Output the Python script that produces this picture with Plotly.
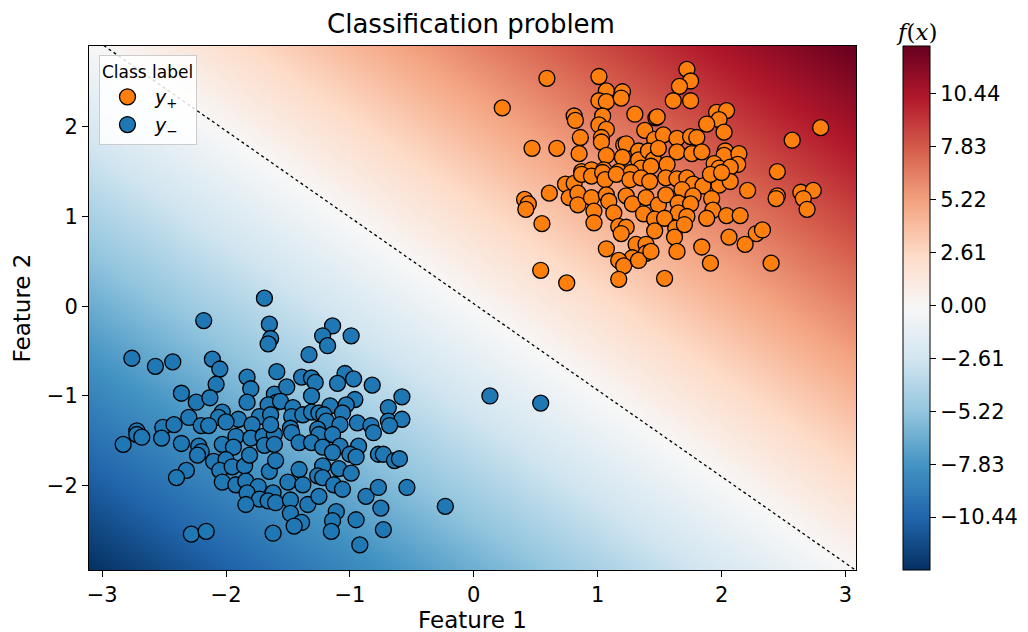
import numpy as np
import plotly.graph_objects as go

# ---- data ----
pos_x = [0.59, 0.23, 1.01, 1.07, 1.01, 1.07, 1.20, 1.19, 1.30, 1.47, 0.81, 0.82, 1.04, 1.01, 1.07, 0.86, 1.03, 1.03,
         1.38, 1.46, 0.47, 0.67, 0.85, 1.07, 1.21, 1.23, 1.20, 1.33, 1.33, 1.41, 1.45, 1.35, 0.87, 0.95, 1.05, 1.17,
         1.27, 1.72, 1.75, 1.66, 1.61, 1.75, 1.96, 2.04, 1.98, 1.88, 2.02, 1.48, 2.80, 2.57, 1.53, 1.64, 1.75, 1.80,
         1.49, 1.64, 1.76, 1.84, 2.03, 2.02, 2.14, 1.56, 1.94, 1.98, 2.13, 2.07, 2.45, 1.43, 0.61, 0.41, 0.44, 0.42,
         0.55, 0.74, 0.81, 0.87, 0.95, 1.04, 1.06, 1.15, 1.26, 1.35, 1.42, 0.77, 0.84, 0.84, 0.95, 1.07, 1.09, 1.23,
         1.28, 1.39, 1.49, 0.97, 0.97, 1.13, 1.17, 1.23, 1.19, 1.37, 1.46, 1.46, 1.07, 1.31, 1.39, 1.39, 1.28, 1.17,
         1.21, 1.33, 0.54, 0.75, 1.17, 2.21, 2.64, 2.74, 2.66, 2.45, 2.44, 2.69, 1.55, 1.64, 1.72, 1.77, 1.85, 1.98,
         2.07, 1.91, 2.00, 1.55, 1.68, 1.77, 1.92, 1.65, 1.75, 1.65, 1.72, 1.54, 1.93, 1.88, 2.04, 2.15, 1.63, 1.62,
         1.70, 2.06, 2.28, 2.33, 2.19, 1.84, 1.64, 1.43, 1.91, 2.40, 1.54]
pos_y = [2.54, 2.21, 2.56, 2.40, 2.29, 2.28, 2.39, 2.32, 2.14, 2.10, 2.12, 2.07, 2.12, 2.02, 1.97, 1.88, 1.88, 1.83,
         1.96, 1.86, 1.76, 1.76, 1.70, 1.68, 1.80, 1.81, 1.66, 1.73, 1.63, 1.73, 1.63, 1.54, 1.50, 1.52, 1.52, 1.50,
         1.49, 2.64, 2.51, 2.45, 2.29, 2.29, 2.16, 2.18, 2.08, 2.03, 1.94, 2.11, 1.99, 1.85, 1.91, 1.87, 1.89, 1.88,
         1.76, 1.72, 1.70, 1.72, 1.73, 1.68, 1.70, 1.58, 1.59, 1.54, 1.58, 1.55, 1.50, 1.56, 1.26, 1.19, 1.14, 1.08,
         0.92, 1.36, 1.37, 1.47, 1.45, 1.49, 1.41, 1.47, 1.41, 1.43, 1.39, 1.21, 1.26, 1.13, 1.21, 1.24, 1.17, 1.23,
         1.14, 1.21, 1.13, 1.06, 0.93, 1.04, 0.89, 0.88, 0.81, 1.03, 0.97, 0.84, 0.64, 0.69, 0.69, 0.59, 0.54, 0.51,
         0.45, 0.51, 0.40, 0.26, 0.30, 1.29, 1.27, 1.29, 1.20, 1.23, 1.20, 1.08, 1.43, 1.42, 1.43, 1.36, 1.34, 1.35,
         1.39, 1.47, 1.49, 1.24, 1.30, 1.23, 1.20, 1.15, 1.14, 1.04, 1.00, 0.98, 1.07, 0.98, 1.01, 1.01, 0.87, 0.77,
         0.91, 0.77, 0.81, 0.85, 0.69, 0.66, 0.61, 0.61, 0.48, 0.48, 0.31]

neg_x = [-1.69, -2.18, -1.65, -1.64, -1.66, -2.76, -2.57, -2.43, -2.11, -2.05, -1.59, -1.83, -1.80, -2.08, -2.36,
         -2.24, -2.13, -1.83, -1.61, -1.59, -1.66, -2.03, -2.06, -2.30, -1.90, -1.73, -1.64, -1.79, -2.51, -2.42,
         -2.72, -2.20, -2.14, -2.00, -1.14, -1.22, -1.18, -0.99, -1.33, -1.39, -1.31, -1.28, -1.04, -0.97, -1.10,
         -0.82, -1.51, -1.56, -1.31, -0.96, -0.58, -0.69, -1.46, -1.47, -1.38, -1.31, -1.25, -1.16, -1.21, -1.03,
         -1.06, -1.19, -1.08, -0.94, -0.83, -0.69, -0.58, -0.68, -1.48, -1.26, -2.72, -2.68, -2.83, -2.52, -2.36,
         -2.22, -2.20, -2.23, -2.32, -2.40, -2.03, -1.92, -1.80, -1.70, -1.61, -1.64, -1.69, -1.61, -1.94, -2.10,
         -2.00, -2.05, -1.95, -1.85, -1.81, -2.03, -1.92, -1.84, -1.74, -1.65, -1.60, -1.62, -1.83, -1.73, -1.84,
         -1.66, -1.60, -2.28, -2.16, -1.62, -1.47, -1.41, -1.25, -1.14, -1.31, -1.22, -1.08, -0.93, -1.14, -1.00,
         -0.95, -0.77, -0.73, -0.64, -0.60, -0.81, -1.22, -1.26, -1.22, -1.09, -0.99, -1.41, -1.50, -1.38, -1.48,
         -1.34, -1.25, -1.13, -1.06, -0.87, -0.77, -0.54, -0.75, -1.48, -1.39, -1.45, -1.11, -1.14, -1.15, -0.95,
         -0.73, -0.92, -0.23, 0.13, 0.54]
neg_y = [0.09, -0.16, -0.20, -0.36, -0.42, -0.58, -0.67, -0.62, -0.59, -0.70, -0.73, -0.79, -0.92, -0.87, -0.97,
         -1.07, -1.02, -1.07, -0.98, -1.07, -1.10, -1.18, -1.24, -1.24, -1.26, -1.23, -1.21, -1.32, -1.35, -1.32,
         -1.39, -1.33, -1.33, -1.29, -0.22, -0.33, -0.44, -0.33, -0.54, -0.79, -0.80, -0.85, -0.75, -0.81, -0.86,
         -0.88, -0.90, -1.06, -1.00, -1.04, -1.01, -1.13, -1.13, -1.23, -1.21, -1.18, -1.19, -1.11, -1.21, -1.10,
         -1.19, -1.28, -1.32, -1.30, -1.33, -1.28, -1.26, -1.33, -1.36, -1.37, -1.43, -1.46, -1.54, -1.47, -1.53,
         -1.56, -1.62, -1.66, -1.83, -1.91, -1.54, -1.45, -1.47, -1.45, -1.43, -1.32, -1.55, -1.54, -1.57, -1.73,
         -1.71, -1.83, -1.79, -1.78, -1.66, -1.96, -1.99, -1.95, -2.01, -1.84, -1.72, -2.08, -2.08, -2.15, -2.21,
         -2.17, -2.19, -2.54, -2.51, -2.53, -1.41, -1.52, -1.43, -1.43, -1.52, -1.57, -1.56, -1.56, -1.63, -1.65,
         -1.68, -1.65, -1.65, -1.72, -1.70, -1.41, -1.78, -1.89, -1.91, -1.81, -1.86, -1.82, -1.96, -1.99, -2.16,
         -2.21, -2.12, -1.99, -2.04, -2.12, -2.02, -2.02, -2.25, -2.31, -2.41, -2.45, -2.29, -2.39, -2.51, -2.38,
         -2.49, -2.66, -2.23, -1.00, -1.08]

# linear decision function f(x) = W1*x1 + W2*x2 + B
W1, W2, B = 2.11, 2.19, -0.06
X_RANGE = [-3.106, 3.085]
Y_RANGE = [-2.94, 2.90]
Z_MIN, Z_MAX = -13.05, 12.80
cbar_ticks = [-10.44, -7.83, -5.22, -2.61, 0.0, 2.61, 5.22, 7.83, 10.44]
cbar_text = [("\u2212" if t < 0 else "") + f"{abs(t):.2f}" for t in cbar_ticks]

rdbu_r = ["#053061", "#2166ac", "#4393c3", "#92c5de", "#d1e5f0", "#f7f7f7",
          "#fddbc7", "#f4a582", "#d6604d", "#b2182b", "#67001f"]
colorscale = [[i / (len(rdbu_r) - 1), c] for i, c in enumerate(rdbu_r)]

gx = np.linspace(X_RANGE[0], X_RANGE[1], 300)
gy = np.linspace(Y_RANGE[0], Y_RANGE[1], 300)
GX, GY = np.meshgrid(gx, gy)
Z = W1 * GX + W2 * GY + B

PLOT_W = 767.0
CB_X0 = (902 - 88) / PLOT_W
CB_X1 = (929 - 88) / PLOT_W
FONT = "DejaVu Sans"

fig = go.Figure()
fig.add_trace(go.Heatmap(
    x=gx, y=gy, z=Z, colorscale=colorscale, zmin=Z_MIN, zmax=Z_MAX, zsmooth="best",
    showscale=True, hoverinfo="skip",
    colorbar=dict(
        thickness=27, len=1.0, lenmode="fraction", y=0.5, yanchor="middle",
        x=CB_X0, xanchor="left", xpad=0, ypad=0,
        outlinewidth=1, outlinecolor="black",
        tickvals=cbar_ticks, ticktext=cbar_text, ticks="outside", ticklen=6,
        tickcolor="black", tickfont=dict(family=FONT, size=21, color="black"),
    ),
))

# decision boundary f = 0
bx = np.linspace(X_RANGE[0], X_RANGE[1], 50)
by = -(W1 * bx + B) / W2
fig.add_trace(go.Scatter(x=bx, y=by, mode="lines", showlegend=False, hoverinfo="skip",
                         line=dict(color="black", width=1.3, dash="dot")))

fig.add_trace(go.Scatter(x=pos_x, y=pos_y, mode="markers", name="<i>y</i><sub>+</sub>",
                         marker=dict(size=16, color="#ff7f0e", line=dict(color="black", width=1.3))))
fig.add_trace(go.Scatter(x=neg_x, y=neg_y, mode="markers", name="<i>y</i><sub>\u2212</sub>",
                         marker=dict(size=16, color="#1f77b4", line=dict(color="black", width=1.3))))

# dotted zero marker on the colorbar
y0 = (0 - Z_MIN) / (Z_MAX - Z_MIN)
fig.add_shape(type="line", xref="paper", yref="paper",
              x0=CB_X0, x1=CB_X1, y0=y0, y1=y0,
              line=dict(color="black", width=1.2, dash="dot"))

# colorbar label f(x)
fig.add_annotation(text="<i>f</i>(<i>x</i>)", xref="paper", yref="paper",
                   x=(CB_X0 + CB_X1) / 2, y=1.0 + 14 / 524, xanchor="center", yanchor="middle",
                   showarrow=False, font=dict(family="DejaVu Serif", size=23, color="black"))

axis_common = dict(showline=True, mirror=True, linecolor="black", linewidth=1,
                   ticks="outside", ticklen=6, tickcolor="black", showgrid=False, zeroline=False,
                   tickfont=dict(family=FONT, size=21, color="black"))
fig.update_xaxes(range=X_RANGE, tickvals=[-3, -2, -1, 0, 1, 2, 3],
                 title=dict(text="Feature 1", font=dict(family=FONT, size=23, color="black"), standoff=1),
                 **axis_common)
fig.update_yaxes(range=Y_RANGE, tickvals=[-2, -1, 0, 1, 2],
                 title=dict(text="Feature 2", font=dict(family=FONT, size=23, color="black"), standoff=9),
                 **axis_common)

fig.update_layout(
    width=1028, height=632,
    margin=dict(l=81, r=180, t=38, b=70, autoexpand=False),
    paper_bgcolor="white", plot_bgcolor="white",
    title=dict(text="Classification problem", x=463 / 1028, xanchor="center", xref="container",
               y=1 - 16 / 632, yanchor="middle", yref="container",
               font=dict(family=FONT, size=26, color="black")),
    legend=dict(title=dict(text="Class label", font=dict(family=FONT, size=17, color="black")),
                x=0.013, y=0.983, xanchor="left", yanchor="top", itemwidth=45,
                bgcolor="rgba(255,255,255,0.85)", bordercolor="#cccccc", borderwidth=1,
                font=dict(family=FONT, size=19, color="black")),
)

fig.write_html("out.html")
